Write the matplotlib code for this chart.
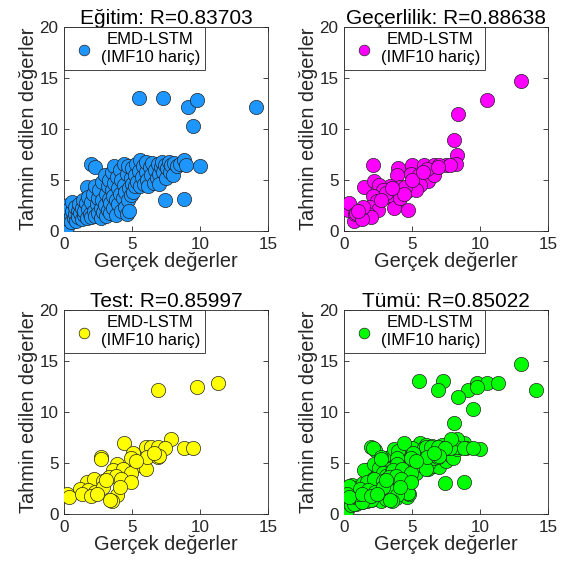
import numpy as np
import matplotlib.pyplot as plt

plt.rcParams['font.family'] = ['Liberation Sans', 'DejaVu Sans']

# Eğitim (training) set: gerçek / tahmin
train_x = [0.0, 0.1, 0.1, 0.2, 0.2, 0.2, 0.3, 0.3, 0.4, 0.4, 0.5, 0.5, 0.6, 0.6, 0.7, 0.8, 0.8, 0.9,
           1.0, 1.0, 1.1, 1.2, 1.3, 1.3, 1.4, 1.5, 1.5, 1.6, 1.7, 1.7, 1.8, 1.8, 1.9, 2.0, 2.0, 2.0,
           2.1, 2.2, 2.3, 2.3, 2.3, 2.4, 2.5, 2.5, 2.6, 2.7, 2.7, 2.8, 2.8, 2.9, 3.0, 3.0, 3.1, 3.1,
           3.2, 3.2, 3.3, 3.3, 3.4, 3.4, 3.5, 3.5, 3.6, 3.6, 3.7, 3.7, 3.8, 3.8, 3.9, 4.0, 4.0, 4.1,
           4.1, 4.2, 4.2, 4.3, 4.4, 4.4, 4.5, 4.5, 4.6, 4.6, 4.7, 4.7, 4.8, 4.8, 4.9, 4.9, 5.0, 5.0,
           5.1, 5.2, 5.2, 5.3, 5.4, 5.5, 5.5, 5.6, 5.6, 5.7, 5.8, 5.9, 6.0, 6.0, 6.1, 6.2, 6.3, 6.4,
           6.5, 6.6, 6.7, 6.8, 6.9, 7.0, 7.0, 7.1, 7.2, 7.3, 7.3, 7.4, 7.4, 7.5, 7.6, 7.7, 7.8, 7.9,
           8.0, 8.1, 8.3, 8.5, 8.8, 8.8, 9.0, 9.1, 9.5, 9.8, 10.0, 14.1]
train_y = [1.0, 1.6, 2.0, 0.7, 1.3, 0.4, 2.5, 1.8, 1.1, 2.2, 1.5, 0.9, 2.0, 2.8, 1.3, 1.7, 2.4, 1.0,
           2.0, 1.4, 2.6, 1.8, 1.2, 2.3, 3.0, 1.6, 2.0, 2.7, 4.3, 1.3, 2.2, 3.3, 1.7, 2.8, 1.4, 6.6,
           3.6, 2.0, 6.3, 4.4, 1.5, 2.6, 3.2, 1.8, 4.0, 2.3, 1.3, 3.0, 4.8, 1.9, 5.5, 2.5, 3.6, 1.5,
           4.4, 2.1, 3.1, 5.0, 2.7, 1.8, 4.0, 5.8, 3.4, 2.3, 6.4, 4.7, 1.6, 3.0, 5.3, 2.6, 4.2, 3.6,
           6.0, 2.0, 5.0, 3.2, 4.5, 6.6, 2.4, 3.8, 5.6, 1.7, 3.0, 6.4, 4.2, 2.0, 5.2, 3.5, 4.6, 6.2,
           3.8, 5.5, 4.4, 6.6, 4.8, 5.9, 13.0, 7.0, 4.4, 5.3, 6.4, 4.6, 5.8, 6.8, 5.0, 4.4, 6.3, 5.5,
           6.7, 4.7, 6.0, 5.2, 6.6, 5.6, 4.6, 6.3, 6.8, 5.8, 13.0, 3.0, 6.5, 5.2, 6.2, 6.8, 5.8, 6.5,
           5.5, 6.7, 6.4, 6.6, 3.1, 7.0, 6.5, 12.2, 10.3, 12.8, 6.4, 12.2]

# Geçerlilik (validation) set
val_x = [13.0, 10.5, 8.4, 8.1, 8.3, 2.1, 1.5, 4.7, 0.3, 0.4, 0.7, 0.8, 4.0, 3.9, 5.0, 5.9, 6.6, 7.5,
         8.2, 4.9, 5.5, 6.2, 6.6, 6.1, 5.6, 5.1, 4.6, 4.1, 3.4, 2.2, 2.6, 2.9, 2.1, 3.0, 3.9, 3.6,
         3.7, 2.4, 1.9, 2.5, 1.8, 1.2, 0.9, 2.0, 1.3, 4.1, 4.6, 5.3, 4.5, 3.1, 2.7, 1.4, 1.0, 5.0,
         5.8, 7.0, 7.8, 6.9, 4.4, 3.5]
val_y = [14.7, 12.8, 11.5, 8.9, 7.4, 6.5, 4.3, 2.1, 2.1, 2.7, 1.0, 1.7, 6.2, 5.5, 6.5, 6.5, 6.5, 6.5,
         6.6, 5.6, 5.5, 4.9, 5.5, 6.1, 4.5, 4.3, 4.3, 4.3, 4.4, 4.9, 4.5, 4.0, 3.4, 3.3, 3.0, 3.4,
         2.3, 2.9, 2.4, 2.1, 1.7, 1.6, 1.8, 1.4, 1.2, 3.2, 3.9, 4.0, 4.3, 3.7, 3.0, 2.4, 2.0, 5.0,
         5.8, 6.5, 6.5, 6.3, 3.6, 4.2]

# Test set
test_x = [6.9, 9.8, 11.3, 4.4, 7.9, 8.8, 9.5, 2.7, 2.7, 3.9, 3.5, 6.0, 6.4, 6.9, 7.4, 5.1, 4.9, 5.6,
          6.0, 6.1, 6.9, 3.9, 3.6, 4.3, 4.9, 3.3, 3.8, 4.2, 4.9, 4.1, 3.4, 2.4, 1.7, 2.2, 2.9, 1.2,
          1.8, 2.3, 2.9, 0.2, 0.4, 1.3, 2.0, 2.4, 7.0, 6.6, 5.3, 3.1]
test_y = [12.2, 12.5, 12.8, 7.0, 7.4, 6.5, 6.5, 5.6, 5.4, 1.9, 1.3, 6.6, 6.6, 6.6, 6.5, 6.0, 5.5, 4.8,
          4.4, 5.6, 5.6, 4.9, 4.3, 4.4, 4.0, 3.6, 3.7, 3.4, 3.1, 2.6, 1.4, 3.1, 3.1, 3.4, 3.2, 2.5,
          2.4, 2.2, 2.6, 2.0, 1.7, 2.0, 1.8, 2.0, 5.7, 6.0, 5.2, 3.3]

all_x = train_x + val_x + test_x
all_y = train_y + val_y + test_y

titles = ['Eğitim: R=0.83703', 'Geçerlilik: R=0.88638', 'Test: R=0.85997', 'Tümü: R=0.85022']
colors = ['#1E96FF', '#FF00FF', '#FFFF00', '#00FF00']
datasets = [(train_x, train_y), (val_x, val_y), (test_x, test_y), (all_x, all_y)]
label = 'EMD-LSTM\n(IMF10 hariç)'

fig = plt.figure(figsize=(5.7, 5.62), dpi=100)
lefts = [0.1123, 0.6035]
bottoms = [0.589, 0.0854]
w, h = 0.358, 0.363

for i, ((x, y), title, c) in enumerate(zip(datasets, titles, colors)):
    ax = fig.add_axes([lefts[i % 2], bottoms[i // 2], w, h])
    ax.scatter(x, y, s=105, c=c, edgecolors='#222222', linewidths=0.5, label=label, zorder=3)
    ax.set_xlim(0, 15)
    ax.set_ylim(0, 20)
    ax.set_xticks([0, 5, 10, 15])
    ax.set_yticks([0, 5, 10, 15, 20])
    ax.tick_params(direction='in', top=True, right=True, labelsize=12.3, colors='#262626',
                   length=3.5, width=0.6, pad=4)
    for sp in ax.spines.values():
        sp.set_color('#262626')
        sp.set_linewidth(0.6)
    ax.set_title(title, fontsize=15, pad=2)
    ax.set_xlabel('Gerçek değerler', fontsize=14.4, color='#262626', labelpad=0)
    ax.set_ylabel('Tahmin edilen değerler', fontsize=14.4, color='#262626', labelpad=1)
    leg = ax.legend(loc='upper left', borderaxespad=0, fancybox=False, edgecolor='#262626',
                    framealpha=1, fontsize=12, handletextpad=0.1, borderpad=0.3,
                    handlelength=1.8, markerscale=0.75)
    leg.get_frame().set_linewidth(0.6)
    for t in leg.get_texts():
        t.set_multialignment('center')
        t.set_linespacing(1.25)

fig.savefig('out.png', dpi=100)
